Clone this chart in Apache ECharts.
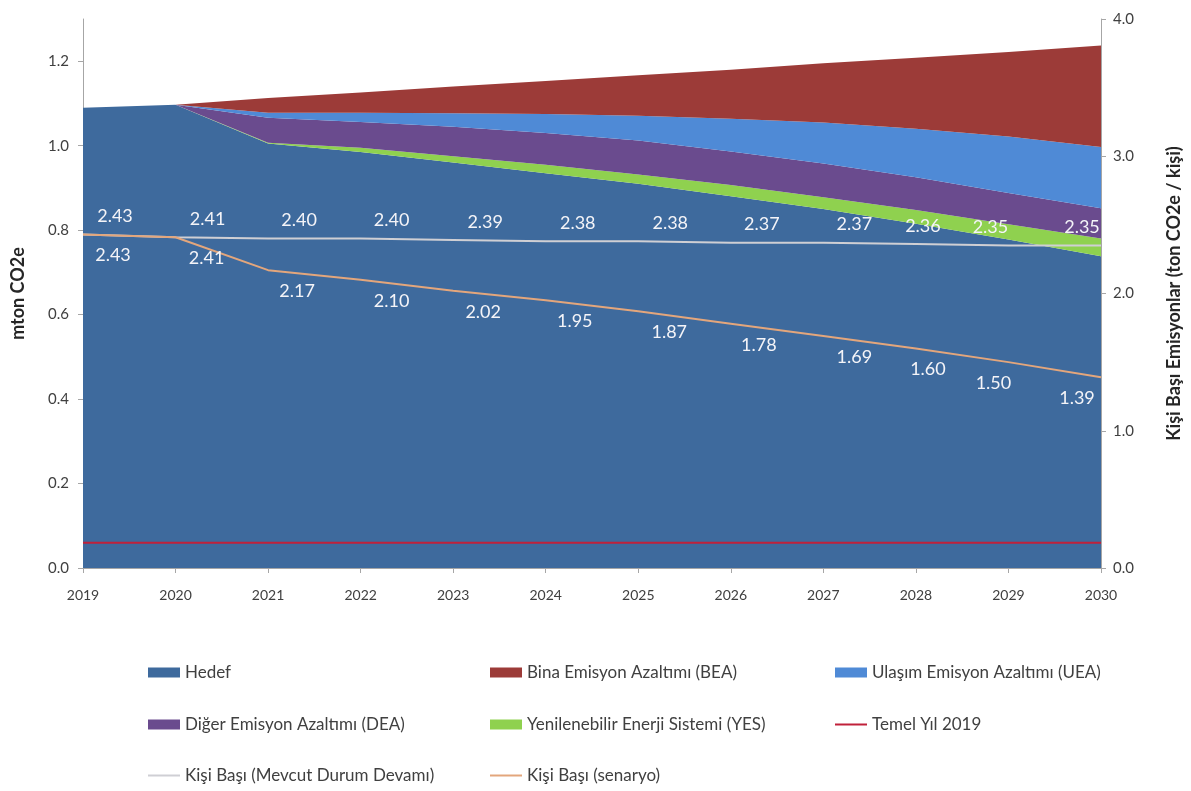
<!DOCTYPE html>
<html>
<head>
<meta charset="utf-8">
<script src="https://cdn.jsdelivr.net/npm/echarts@6/dist/echarts.min.js"></script>
<style>
html,body{margin:0;padding:0;background:#fff;overflow:hidden;width:1191px;height:791px;}
#c{width:1191px;height:791px;display:block;}
</style>
</head>
<body>
<div id="c"></div>
<script>
// ---- data ----
const years = ['2019','2020','2021','2022','2023','2024','2025','2026','2027','2028','2029','2030'];
const hedef = [1.090,1.097,1.005,0.985,0.960,0.935,0.910,0.880,0.850,0.815,0.778,0.738];
const yes   = [0,0,0.002,0.010,0.015,0.020,0.022,0.027,0.028,0.033,0.036,0.042];
const dea   = [0,0,0.059,0.061,0.070,0.075,0.080,0.079,0.080,0.077,0.074,0.072];
const uea   = [0,0,0.012,0.022,0.032,0.045,0.059,0.078,0.097,0.115,0.134,0.145];
const bea   = [0,0,0.035,0.048,0.063,0.078,0.096,0.116,0.140,0.168,0.200,0.240];
const temelYil = [0.06,0.06,0.06,0.06,0.06,0.06,0.06,0.06,0.06,0.06,0.06,0.06];
const kisiBAU = [2.43,2.41,2.40,2.40,2.39,2.38,2.38,2.37,2.37,2.36,2.35,2.35];
const kisiSenaryo = [2.43,2.41,2.17,2.10,2.02,1.95,1.87,1.78,1.69,1.60,1.50,1.39];
const leftTicks = [0,0.2,0.4,0.6,0.8,1.0,1.2];

// label horizontal nudges (style only)
const bauDx = [32,32,31,31,32,32,32,31,31,7,-18,-19];
const senDx = [30,31,29,31,30,29,31,28,31,12,-15,-24];

const FONT = 'Lato';
const names = {
  hedef:'Hedef', bea:'Bina Emisyon Azaltımı (BEA)', uea:'Ulaşım Emisyon Azaltımı (UEA)',
  dea:'Diğer Emisyon Azaltımı (DEA)', yes:'Yenilenebilir Enerji Sistemi (YES)',
  temel:'Temel Yıl 2019', bau:'Kişi Başı (Mevcut Durum Devamı)', sen:'Kişi Başı (senaryo)'
};
const colors = {
  hedef:'#3E6A9D', bea:'#9C3B38', uea:'#4F8AD6', dea:'#6A4B8E', yes:'#8FD14F',
  temel:'#C0213A', bau:'#CFCFD4', sen:'#E3A67C'
};

function area(key, data){
  return {
    name:names[key], type:'line', stack:'total', data:data, symbol:'none',
    lineStyle:{width:0}, areaStyle:{color:colors[key], opacity:1},
    itemStyle:{color:colors[key]}, emphasis:{disabled:true}, z:2
  };
}
function perCap(key, data, dx, pos, dist){
  return {
    name:names[key], type:'line', yAxisIndex:1, symbol:'circle', symbolSize:0.1, showSymbol:true,
    lineStyle:{width:2, color:colors[key]}, itemStyle:{color:colors[key]},
    emphasis:{disabled:true}, z:5,
    data:data.map((v,i)=>({value:v, label:{offset:[dx[i],0]}})),
    label:{show:true, position:pos, distance:dist, color:'#F4F4F8', fontSize:18, fontFamily:FONT,
      formatter:p=>p.value.toFixed(2)}
  };
}

const legendPos = [
  ['hedef',148,674,'rect'],['bea',490,674,'rect'],['uea',835,674,'rect'],
  ['dea',148,726,'rect'],['yes',490,726,'rect'],['temel',835,726,'line'],
  ['bau',148,777,'line'],['sen',490,777,'line']
];
const legends = legendPos.map(([k,x,y,t])=>({
  data:[{name:names[k], icon:'rect', itemStyle: t==='line'?{color:colors[k]}:undefined}],
  left:x, top:y-10, padding:0,
  itemWidth:32, itemHeight: t==='line'?2:10,
  textStyle:{fontSize:17, color:'#404040', fontFamily:FONT},
  selectedMode:false
}));

const axisGray = '#A6A6A6';
const option = {
  animation:false,
  textStyle:{fontFamily:FONT},
  grid:{left:83, right:85, top:19, bottom:223, containLabel:false},
  legend:legends,
  xAxis:{
    type:'category', data:years, boundaryGap:false,
    axisLine:{show:true, lineStyle:{color:axisGray, width:1}},
    axisTick:{show:true, length:5, lineStyle:{color:axisGray}},
    axisLabel:{fontSize:14, color:'#404040', margin:20, fontFamily:FONT},
    splitLine:{show:false}
  },
  yAxis:[
    {
      type:'value', min:0, max:1.3, position:'left',
      name:'mton CO2e', nameLocation:'middle', nameGap:56, nameRotate:90,
      nameTextStyle:{fontSize:18, fontWeight:'bold', color:'#262626', fontFamily:FONT},
      axisLine:{show:true, lineStyle:{color:axisGray}},
      axisTick:{show:true, length:5, lineStyle:{color:axisGray}, customValues:leftTicks},
      axisLabel:{fontSize:15, color:'#404040', margin:14, fontFamily:FONT,
        customValues:leftTicks, formatter:v=>v.toFixed(1)},
      splitLine:{show:false}
    },
    {
      type:'value', min:0, max:4, interval:1, position:'right',
      name:'Kişi Başı Emisyonlar (ton CO2e / kişi)', nameLocation:'middle', nameGap:64, nameRotate:90,
      nameTextStyle:{fontSize:18, fontWeight:'bold', color:'#262626', fontFamily:FONT},
      axisLine:{show:true, lineStyle:{color:axisGray}},
      axisTick:{show:true, length:5, lineStyle:{color:axisGray}},
      axisLabel:{fontSize:15, color:'#404040', margin:12, fontFamily:FONT,
        formatter:v=>v.toFixed(1)},
      splitLine:{show:false}
    }
  ],
  series:[
    area('hedef', hedef),
    area('yes', yes),
    area('dea', dea),
    area('uea', uea),
    area('bea', bea),
    {name:names.temel, type:'line', data:temelYil, symbol:'none', yAxisIndex:0,
     lineStyle:{width:2, color:colors.temel}, itemStyle:{color:colors.temel}, z:4, emphasis:{disabled:true}},
    perCap('bau', kisiBAU, bauDx, 'top', 9),
    perCap('sen', kisiSenaryo, senDx, 'bottom', 12)
  ]
};
const chart = echarts.init(document.getElementById('c'), null, {renderer:'canvas'});
chart.setOption(option);
</script>
</body>
</html>
